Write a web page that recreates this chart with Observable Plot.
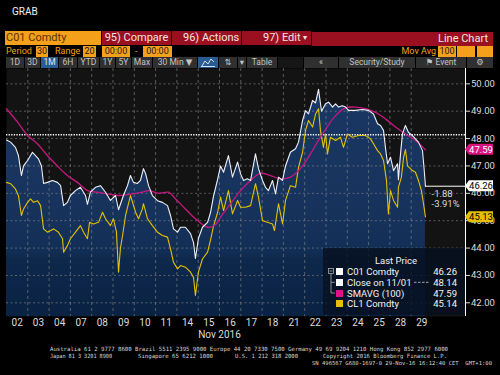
<!DOCTYPE html>
<html><head><meta charset="utf-8">
<script src="https://cdn.jsdelivr.net/npm/d3@7"></script>
<script src="https://cdn.jsdelivr.net/npm/@observablehq/plot@0.6"></script>
<style>
html,body{margin:0;padding:0;background:#000;width:500px;height:375px;overflow:hidden;font-family:Roboto,"DejaVu Sans",sans-serif;}
#wrap{position:relative;width:500px;height:375px;}
#wrap svg{position:absolute;left:0;top:0;}
.a{position:absolute;white-space:nowrap;box-sizing:border-box;}
.r1{top:31px;height:14px;line-height:14px;font-size:11px;}
.red{background:#9a1020;color:#f3e3e3;text-align:center;}
.r2{top:46px;height:11px;line-height:11px;font-size:9px;}
.or{color:#f5a01a;}
.ob{background:#f5a01a;color:#1a1a1a;text-align:center;}
.r3{top:57px;height:11px;line-height:11px;font-size:8.5px;background:#303030;color:#c4c4c4;text-align:center;}
#legend{position:absolute;left:323px;top:248px;width:142px;height:67px;background:rgba(6,16,32,0.82);color:#f2f2f2;font-size:9.5px;}
#legend .row{position:absolute;left:0;width:142px;height:11px;line-height:11px;}
#legend .sq{position:absolute;left:13px;top:2px;width:7px;height:7px;}
#legend .nm{position:absolute;left:24px;}
#legend .vl{position:absolute;right:8px;}
</style></head>
<body><div id="wrap"></div>
<script>
// ---- data ----
const days = ["02","03","04","07","08","09","10","11","14","15","16","17","18","21","22","23","24","25","28","29"];
const monthLabel = "Nov 2016";
const yTicks = [42,43,44,45,46,47,48,49,50];

// C01 Comdty (Brent), time in trading-day units from the start of Nov 02
const c01T = [0,0.19,0.42,0.56,0.70,0.80,0.99,1.22,1.36,1.50,1.64,1.74,1.92,2.16,2.39,2.54,2.68,2.86,3.00,3.24,3.47,3.71,3.80,3.94,4.18,4.41,4.65,4.88,5.12,5.26,5.49,5.68,5.82,5.96,6.15,6.29,6.43,6.53,6.67,6.85,7.09,7.32,7.56,7.70,7.84,8.03,8.17,8.40,8.64,8.78,8.87,9.01,9.20,9.44,9.58,9.72,9.91,10.05,10.19,10.42,10.61,10.85,10.99,11.13,11.31,11.46,11.69,11.83,12.02,12.16,12.30,12.49,12.63,12.77,12.96,13.10,13.33,13.57,13.71,13.90,14.04,14.18,14.37,14.51,14.65,14.79,14.98,15.12,15.31,15.45,15.59,15.77,15.92,16.06,16.38,16.71,17.00,17.23,17.42,17.56,17.70,17.79,17.89,18.03,18.17,18.36,18.40,18.50,18.59,18.73,18.87,19.06,19.20,19.34,19.53,19.60,19.67];
const c01V = [47.95,47.87,47.68,47.38,46.65,47.0,47.2,47.5,47.38,47.26,47.0,46.36,46.4,46.47,46.4,46.28,45.55,45.67,45.92,46.1,46.22,45.92,45.6,46.04,46.22,46.28,46.04,45.74,45.92,45.4,45.92,46.28,46.65,46.4,46.36,46.47,46.9,46.72,46.28,45.92,45.73,45.67,45.55,45.19,44.7,44.58,44.76,44.76,44.53,44.2,43.62,44.35,44.76,44.94,45.3,45.9,46.5,47.0,46.77,47.38,46.59,47.14,46.71,46.47,46.53,46.47,47.44,46.9,46.47,46.22,46.1,46.47,45.98,46.59,46.47,47.0,47.5,47.63,47.87,48.66,49.02,48.9,49.39,49.3,49.8,49.0,49.27,49.33,49.15,49.27,49.15,49.2,49.15,49.03,49.03,49.06,49.03,48.9,48.54,48.48,48.3,47.68,47.08,47.32,46.83,47.08,46.5,47.44,48.17,48.48,48.23,48.11,47.99,47.87,47.56,46.95,46.26];

// CL1 Comdty (WTI)
const cl1T = [0,0.19,0.42,0.56,0.70,0.80,0.99,1.13,1.27,1.46,1.60,1.74,1.92,2.21,2.44,2.63,2.68,2.86,3.00,3.24,3.47,3.62,3.80,3.90,4.08,4.32,4.51,4.65,4.88,5.02,5.16,5.26,5.35,5.45,5.59,5.82,6.06,6.20,6.38,6.43,6.62,6.85,7.09,7.32,7.56,7.70,7.84,8.03,8.17,8.40,8.64,8.78,8.87,9.01,9.20,9.44,9.58,9.72,9.91,10.05,10.19,10.42,10.61,10.85,10.99,11.22,11.46,11.69,11.83,12.02,12.25,12.49,12.58,12.77,12.96,13.10,13.33,13.57,13.71,13.90,14.04,14.18,14.37,14.51,14.65,14.74,14.88,14.98,15.07,15.21,15.45,15.68,15.82,16.01,16.24,16.53,16.85,17.09,17.23,17.42,17.56,17.70,17.84,17.93,18.03,18.17,18.36,18.40,18.54,18.64,18.73,18.83,19.06,19.20,19.34,19.48,19.58,19.67];
const cl1V = [46.4,46.35,46.16,45.92,45.19,45.43,45.67,45.8,45.67,45.73,45.55,44.7,44.58,44.7,44.58,44.34,43.85,44.09,44.34,44.58,44.82,44.58,44.34,44.94,44.88,44.94,45.31,45.07,44.82,45.07,44.6,43.12,44.0,44.46,45.19,45.92,45.31,45.07,45.43,45.62,45.07,44.82,44.58,44.46,44.4,43.97,43.48,43.24,43.36,43.3,43.12,42.93,42.27,43.12,43.6,43.85,44.3,44.8,45.3,45.86,45.37,46.1,45.25,45.74,45.49,45.49,45.55,46.35,45.86,45.0,44.94,44.88,44.64,45.62,44.88,45.74,46.28,46.22,46.95,47.5,48.3,48.66,48.42,48.9,49.09,48.3,47.68,48.17,47.44,48.05,47.93,48.05,47.68,48.17,48.05,48.11,48.11,47.99,47.81,47.56,47.44,47.2,46.47,45.25,46.1,45.74,45.49,46.22,46.59,47.3,47.6,47.0,46.83,46.77,46.47,46.1,45.62,45.14];

// SMAVG (100) of C01
const smaT = [0,0.52,0.99,1.46,1.92,2.39,2.86,3.33,3.80,4.27,4.74,5.26,5.92,6.38,6.67,7.14,7.61,7.93,8.40,8.87,9.44,9.81,10.05,10.52,10.99,11.46,11.92,12.39,12.86,13.33,13.80,14.27,14.74,15.45,15.92,16.38,16.85,17.32,17.79,18.26,18.73,19.20,19.67];
const smaV = [49.09,48.6,48.11,47.8,47.38,47.0,46.65,46.4,46.1,46.04,45.98,45.92,45.98,46.04,46.1,46.0,46.04,45.8,45.43,45.07,44.76,44.85,45.13,45.62,46.1,46.47,46.73,46.65,46.53,46.59,46.9,47.44,48.05,48.84,49.12,49.15,49.09,48.96,48.72,48.42,48.17,47.93,47.59];

const close1101 = 48.14;
const legendNames = ["C01 Comdty","Close on 11/01","SMAVG (100)","CL1 Comdty"];
const legendValues = [46.26, 48.14, 47.59, 45.14];
const tagValues = [47.59, 46.26, 45.13];

// ---- build ----
const zip = (T, V) => T.map((t, i) => ({t, v: V[i]}));
const c01 = zip(c01T, c01V), cl1 = zip(cl1T, cl1V), sma = zip(smaT, smaV);
const X1 = 21.55, Y0 = 41.5, Y1 = 50.56;
const last = c01V[c01V.length - 1], lastT = c01T[c01T.length - 1];
const chg = last - close1101;
const pct = chg / close1101 * 100;
const dayEdges = d3.range(1, days.length);
const dayCenters = days.map((d, i) => i + 0.5);

const plot = Plot.plot({
  width: 500, height: 375,
  marginTop: 68, marginBottom: 59, marginLeft: 6, marginRight: 35,
  x: {domain: [0, X1]},
  y: {domain: [Y0, Y1]},
  style: {background: "transparent", color: "#dcdcdc", fontFamily: "Roboto, 'DejaVu Sans', sans-serif"},
  marks: [
    Plot.frame({fill: "#131313", stroke: null}),
    Plot.areaY(c01, {x: "t", y1: Y0, y2: "v", fill: "url(#c01fill)"}),
    Plot.gridY(yTicks, {stroke: "#8a8a8a", strokeOpacity: 0.6, strokeDasharray: "2,2.5"}),
    Plot.gridX(dayEdges, {stroke: "#8a8a8a", strokeOpacity: 0.6, strokeDasharray: "3,3"}),
    Plot.ruleY([close1101], {stroke: "#ffffff", strokeWidth: 1.3, strokeDasharray: "1.3,1.3"}),
    Plot.line(cl1, {x: "t", y: "v", stroke: "#e3c200", strokeWidth: 1.1}),
    Plot.line(sma, {x: "t", y: "v", stroke: "#c8187f", strokeWidth: 1.3, curve: "catmull-rom"}),
    Plot.line(c01, {x: "t", y: "v", stroke: "#eef0f4", strokeWidth: 1.1}),
    Plot.ruleY([last], {x1: lastT, x2: X1, stroke: "#ffffff", strokeWidth: 1}),
    Plot.ruleX([X1], {stroke: "#ffffff", strokeWidth: 1}),
    Plot.axisY(yTicks, {anchor: "right", tickFormat: d => d.toFixed(2), tickSize: 4, tickPadding: 1.5, fontSize: 9.5, color: "#dcdcdc", label: null}),
    Plot.axisX(dayCenters, {anchor: "bottom", tickFormat: d => days[Math.floor(d)], tickSize: 0, tickPadding: 2.5, fontSize: 10, color: "#dcdcdc", label: null}),
    Plot.text([monthLabel], {x: days.length / 2, y: Y0, dy: 18, text: d => d, fontSize: 10, fill: "#dcdcdc"}),
    Plot.text([chg.toFixed(2)], {x: X1, y: last, dx: -34, dy: 7.5, text: d => d, textAnchor: "start", fontSize: 9.5, fill: "#dcdcdc"}),
    Plot.text([pct.toFixed(2) + "%"], {x: X1, y: last, dx: -34, dy: 18, text: d => d, textAnchor: "start", fontSize: 9.5, fill: "#dcdcdc"})
  ]
});
document.getElementById("wrap").appendChild(plot);

const svg = d3.select(plot);
const grad = svg.insert("defs", ":first-child").append("linearGradient")
  .attr("id", "c01fill").attr("gradientUnits", "userSpaceOnUse")
  .attr("x1", 0).attr("y1", 68).attr("x2", 0).attr("y2", 316);
[[0, "#1a3865"], [0.55, "#17335d"], [0.74, "#132e56"], [0.77, "#0e284c"], [1, "#0a2243"]]
  .forEach(([o, c]) => grad.append("stop").attr("offset", o).attr("stop-color", c));

// right-hand value tags
const ys = plot.scale("y"), xs = plot.scale("x");
const xr = xs.apply(X1);
const tagStyles = [["#d8157f", "#ffffff"], ["#ffffff", "#000000"], ["#e6c000", "#000000"]];
tagValues.forEach((v, i) => {
  const y = ys.apply(v);
  svg.append("path")
    .attr("d", `M${xr},${y} L${xr + 4},${y - 5.5} L${xr + 28},${y - 5.5} L${xr + 28},${y + 5.5} L${xr + 4},${y + 5.5} Z`)
    .attr("fill", tagStyles[i][0]);
  svg.append("text").attr("x", xr + 16).attr("y", y).attr("dy", "0.35em")
    .attr("text-anchor", "middle").attr("font-size", 9.5).attr("fill", tagStyles[i][1])
    .attr("font-family", "Roboto, sans-serif").text(v.toFixed(2));
});

// footer
const foot = [
  ["Australia 61 2 9777 8600 Brazil 5511 2395 9000 Europe 44 20 7330 7500 Germany 49 69 9204 1210 Hong Kong 852 2977 6000", 50, 350.5, 398, 5.7],
  ["Japan 81 3 3201 8900", 50, 357.8, 62, 5.7],
  ["Singapore 65 6212 1000", 138, 357.8, 75, 5.7],
  ["U.S. 1 212 318 2000", 235, 357.8, 63, 5.7],
  ["Copyright 2016 Bloomberg Finance L.P.", 323, 357.8, 124, 5.7],
  ["SN 496567 G680-1697-0 29-Nov-16 16:12:40 CET  GMT+1:00", 312, 364.8, 180, 5.5]
];
foot.forEach(([s, x, y, w, fs]) => {
  svg.append("text").attr("x", x).attr("y", y).attr("font-size", fs).attr("fill", "#d8d8d8")
    .attr("text-anchor", "start")
    .attr("font-family", "'DejaVu Sans Mono', monospace").attr("textLength", w)
    .attr("lengthAdjust", "spacingAndGlyphs").text(s);
});

// header + legend (HTML overlay)
const wrap = document.getElementById("wrap");
function add(html) { wrap.insertAdjacentHTML("beforeend", html); }
add(`<div class="a" style="left:12px;top:6px;font-size:10px;color:#f0f0f0;">GRAB</div>`);
add(`<div class="a r1" style="left:5px;width:96px;background:#f5a01a;color:#5a3300;padding-left:1px;">C01 Comdty</div>`);
add(`<div class="a r1 red" style="left:102px;width:69px;">95) Compare</div>`);
add(`<div class="a r1 red" style="left:172px;width:69px;text-align:left;padding-left:11px;">96) Actions <span style="font-size:8px">&#9662;</span></div>`);
add(`<div class="a r1 red" style="left:242px;width:69px;text-align:left;padding-left:21px;">97) Edit <span style="position:absolute;left:61px;font-size:8px">&#9662;</span></div>`);
add(`<div class="a r1 red" style="left:312px;width:181px;text-align:right;padding-right:5px;top:32px;">Line Chart</div>`);
add(`<div class="a r2 or" style="left:6px;">Period</div>`);
add(`<div class="a r2 ob" style="left:36px;width:12px;">30</div>`);
add(`<div class="a r2 or" style="left:55px;">Range</div>`);
add(`<div class="a r2 ob" style="left:83px;width:13px;">20</div>`);
add(`<div class="a r2 ob" style="left:102px;width:28px;">00:00</div>`);
add(`<div class="a r2 or" style="left:135px;">-</div>`);
add(`<div class="a r2 ob" style="left:143px;width:29px;">00:00</div>`);
add(`<div class="a r2 or" style="left:398px;width:38px;text-align:right;">Mov Avg</div>`);
add(`<div class="a r2 ob" style="left:438px;width:18px;">100</div>`);
add(`<div class="a r2 ob" style="left:457px;width:18px;"></div>`);
add(`<div class="a r2 ob" style="left:477px;width:16px;"></div>`);
const tb = [[6,18,"1D"],[25,15,"3D"],[41,17,"1M"],[59,18,"6H"],[78,21,"YTD"],[100,15,"1Y"],[116,15,"5Y"],[132,20,"Max"],[153,44,"30 Min &#9660;"],[198,20,""],[219,18,"&#8645;"],[238,8,"&#9662;"],[247,30,"Table"],[304,34,"&#171;"],[339,76,"Security/Study"],[416,50,"&#9873; Event"],[467,26,"&#9881;"]];
tb.forEach(([l, w, s], i) => {
  const bg = (i === 2 || i === 9) ? "background:#2a5c94;color:#e0e8f0;" : "";
  add(`<div class="a r3" style="left:${l}px;width:${w}px;${bg}">${s}</div>`);
});
add(`<svg class="a" style="left:201px;top:58px;" width="14" height="9"><polyline points="1,8 4,3 7,6 10,1 13,4" fill="none" stroke="#cfe0f0" stroke-width="1"/><line x1="0" y1="8.5" x2="14" y2="8.5" stroke="#cfe0f0"/></svg>`);
add(`<div class="a r3" style="left:278px;width:25px;background:#161616;"></div>`);

const legendColors = ["#ffffff", "#ffffff", "#e0128a", "#e6c000"];
let lg = `<div id="legend"><div class="a" style="left:0;width:142px;top:7px;text-align:center;padding-left:4px;">Last Price</div>`;
legendNames.forEach((n, i) => {
  const top = 18 + i * 10.8;
  lg += `<div class="row" style="top:${top}px;"><div class="sq" style="background:${legendColors[i]}"></div><div class="nm">${n}</div><div class="vl">${legendValues[i].toFixed(2)}</div></div>`;
});
lg += `<svg class="a" style="left:0;top:0" width="142" height="67">
<rect x="5.5" y="20.5" width="5" height="5" fill="none" stroke="#aaa" stroke-width="0.8"/><line x1="6.5" y1="23" x2="9.5" y2="23" stroke="#aaa" stroke-width="0.8"/>
<line x1="8" y1="26" x2="8" y2="45" stroke="#aaa" stroke-width="0.8"/><line x1="8" y1="34.3" x2="12" y2="34.3" stroke="#aaa" stroke-width="0.8"/><line x1="8" y1="45" x2="12" y2="45" stroke="#aaa" stroke-width="0.8"/>
<line x1="91" y1="34.3" x2="107" y2="34.3" stroke="#ccc" stroke-width="0.8" stroke-dasharray="2.5,1.5"/></svg></div>`;
add(lg);
</script>
</body></html>
